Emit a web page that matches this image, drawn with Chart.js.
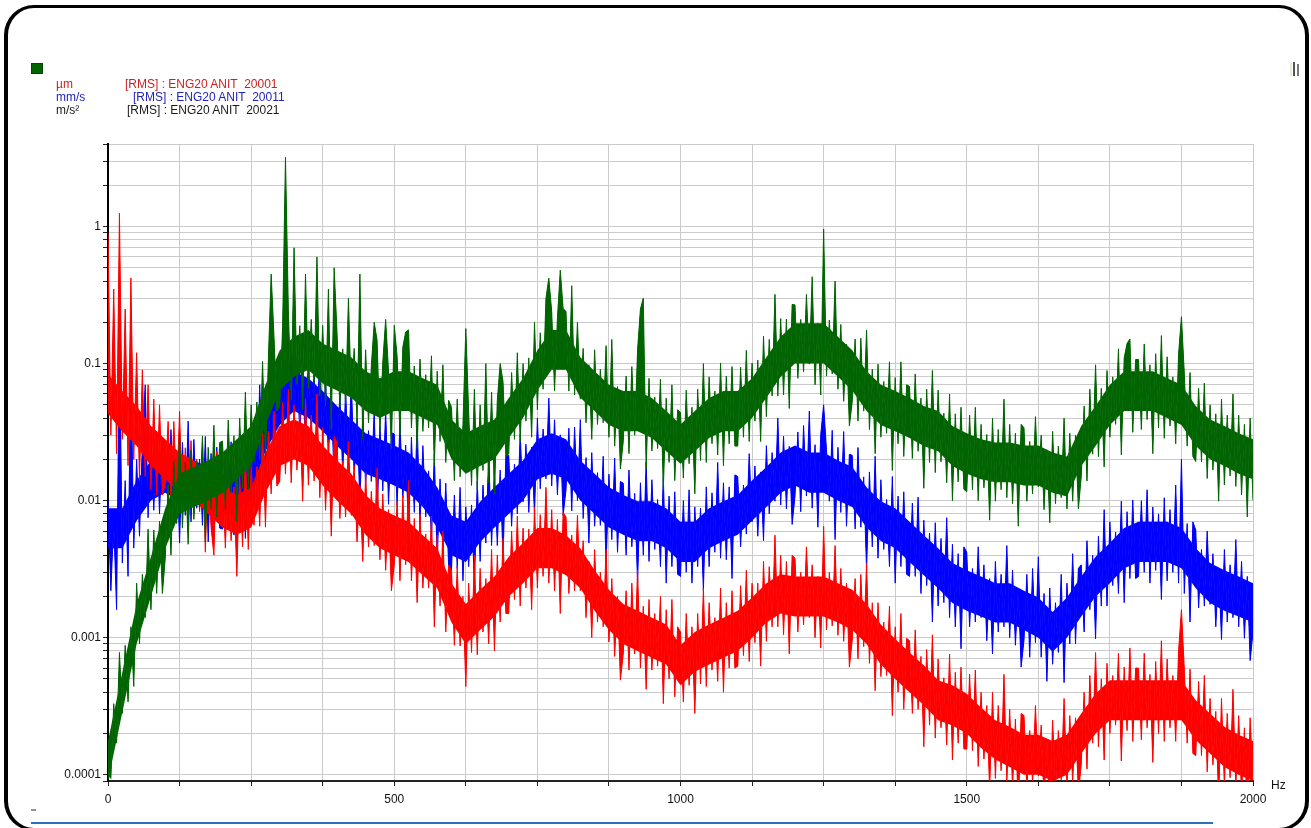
<!DOCTYPE html>
<html>
<head>
<meta charset="utf-8">
<script src="https://cdn.jsdelivr.net/npm/chart.js@4.4.1/dist/chart.umd.min.js"></script>
<style>
  html, body { margin: 0; padding: 0; background: #fff; }
  body { width: 1311px; height: 828px; position: relative; overflow: hidden; font-family: "Liberation Sans", Arial, sans-serif; }
  #frame { position: absolute; left: 4px; top: 5px; width: 1305px; height: 826px; box-sizing: border-box;
           border: 3px solid #000; border-left-width: 4px; border-right-width: 4px; border-radius: 30px; }
  #chart { position: absolute; left: 0; top: 0; }
  .legend-box { position: absolute; left: 31px; top: 63px; width: 12px; height: 11px; background: #006400; box-sizing: border-box; border: 1px solid #004a00; }
  .leg { position: absolute; font-size: 12px; line-height: 13px; white-space: pre; }
  .hz { position: absolute; left: 1271px; top: 778px; font-size: 12px; color: #111; }
  .bottom-line { position: absolute; left: 31px; top: 822px; width: 1182px; height: 2px; background: #2f6fbf; }
  .mark { position: absolute; }
</style>
</head>
<body>
<div id="frame"></div>
<canvas id="chart" width="1311" height="828"></canvas>

<div class="legend-box"></div>
<div class="leg" style="left:56px; top:78px; color:#cc1f1f;">µm</div>
<div class="leg" style="left:125px; top:78px; color:#cc1f1f;">[RMS] : ENG20 ANIT  20001</div>
<div class="leg" style="left:56px; top:91px; color:#2323b8;">mm/s</div>
<div class="leg" style="left:133px; top:91px; color:#2323b8;">[RMS] : ENG20 ANIT  20011</div>
<div class="leg" style="left:56px; top:104px; color:#1a1a1a;">m/s²</div>
<div class="leg" style="left:127px; top:104px; color:#1a1a1a;">[RMS] : ENG20 ANIT  20021</div>
<div class="hz">Hz</div>

<div class="mark" style="left:1290px; top:62px; width:2px; height:14px; background:#eeead6;"></div>
<div class="mark" style="left:1293px; top:62px; width:2px; height:14px; background:#555;"></div>
<div class="mark" style="left:1297px; top:64px; width:2px; height:12px; background:#777;"></div>
<div class="mark" style="left:31px; top:809px; width:5px; height:2px; background:#9a9685;"></div>
<div class="bottom-line"></div>

<script>
// --- Data: RMS spectrum, one value every 5 Hz from 0 to 2000 Hz ---
const freqStepHz = 5;
// dense core of each trace (where the lines are packed solid), every 25 Hz
const coreStepHz = 25;
const xTickLabels = [0, 500, 1000, 1500, 2000];
const yDecades = [0.0001, 0.001, 0.01, 0.1, 1];
const yTickLabels = ['0.0001', '0.001', '0.01', '0.1', '1'];

// µm  [RMS] : ENG20 ANIT 20001
const redValues = [
  0.9, 0.03, 0.35, 0.022, 1.25, 0.028, 0.25, 0.018, 0.42, 0.02, 0.12, 0.014, 0.09, 0.015, 0.07, 0.012, 0.055, 0.011, 0.05, 0.011,
  0.0132, 0.0378, 0.0096, 0.0378, 0.0112, 0.0448, 0.0086, 0.0243, 0.0059, 0.0274, 0.0081, 0.0201, 0.0083, 0.0271, 0.0042, 0.0196, 0.0064, 0.004, 0.023, 0.0156,
  0.0151, 0.0045, 0.0187, 0.0051, 0.0126, 0.0028, 0.0154, 0.0046, 0.023, 0.0044, 0.0178, 0.0066, 0.0177, 0.0065, 0.0334, 0.0064, 0.032, 0.0112, 0.045, 0.0128,
  0.0138, 0.052, 0.0156, 0.065, 0.0135, 0.05, 0.0167, 0.043, 0.0099, 0.055, 0.013, 0.042, 0.0139, 0.06, 0.0105, 0.034, 0.0085, 0.0275, 0.0055, 0.0294,
  0.0266, 0.0074, 0.0194, 0.0076, 0.0271, 0.0078, 0.0179, 0.005, 0.0129, 0.0036, 0.0158, 0.0046, 0.0117, 0.0047, 0.0172, 0.0037, 0.0112, 0.0031, 0.0086, 0.0022,
  0.0034, 0.0099, 0.0026, 0.0109, 0.0034, 0.014, 0.0026, 0.0074, 0.0018, 0.008, 0.0023, 0.0057, 0.0023, 0.0077, 0.0012, 0.0056, 0.0017, 0.006, 0.0011, 0.0034,
  0.0031, 0.00088, 0.0033, 0.00087, 0.002, 0.00044, 0.0025, 0.00078, 0.004, 0.00075, 0.0032, 0.0011, 0.0027, 0.0009, 0.0044, 0.0008, 0.004, 0.0013, 0.0053, 0.0015,
  0.0015, 0.006, 0.0019, 0.0077, 0.0017, 0.0063, 0.0023, 0.0062, 0.0016, 0.009, 0.0023, 0.0079, 0.0028, 0.0125, 0.0025, 0.0086, 0.0022, 0.0073, 0.0015, 0.0082,
  0.0076, 0.0021, 0.0056, 0.0022, 0.0078, 0.0022, 0.0051, 0.0014, 0.0036, 0.001, 0.0044, 0.0013, 0.003, 0.0012, 0.0044, 0.00093, 0.0027, 0.00073, 0.002, 0.00049,
  0.00076, 0.0022, 0.00058, 0.0025, 0.00076, 0.0031, 0.0006, 0.0017, 0.00042, 0.0019, 0.00058, 0.0015, 0.00062, 0.002, 0.00033, 0.0016, 0.0005, 0.0019, 0.00037, 0.0012,
  0.0011, 0.00034, 0.0015, 0.00045, 0.0012, 0.00028, 0.0015, 0.00046, 0.0023, 0.00044, 0.0018, 0.00058, 0.0014, 0.00048, 0.0023, 0.0004, 0.0018, 0.0006, 0.0022, 0.0006,
  0.00062, 0.0024, 0.00074, 0.0031, 0.00067, 0.0025, 0.00092, 0.0025, 0.00062, 0.0036, 0.00094, 0.0033, 0.0012, 0.0056, 0.0012, 0.004, 0.00105, 0.0036, 0.00076, 0.004,
  0.0038, 0.0011, 0.003, 0.00124, 0.0046, 0.0014, 0.0034, 0.001, 0.0028, 0.00084, 0.0065, 0.00114, 0.003, 0.00122, 0.0047, 0.00104, 0.0032, 0.00094, 0.0025, 0.00061,
  0.00096, 0.0027, 0.0007, 0.0029, 0.00086, 0.0035, 0.00065, 0.0018, 0.00041, 0.0018, 0.00052, 0.0013, 0.00053, 0.0017, 0.00027, 0.0012, 0.0004, 0.0015, 0.0003, 0.00099,
  0.00095, 0.00028, 0.00114, 0.0003, 0.00073, 0.00016, 0.00082, 0.00023, 0.00105, 0.000185, 0.0007, 0.00022, 0.00051, 0.000165, 0.00076, 0.000128, 0.00056, 0.00017, 0.00061, 0.000154,
  0.000154, 0.00054, 0.00015, 0.00058, 0.000115, 0.0004, 0.00013, 0.00032, 0.000076, 0.0004, 0.000094, 0.00032, 0.000107, 0.00054, 0.000088, 0.0003, 0.00008, 0.000255, 0.000054, 0.00028,
  0.00027, 0.000077, 0.00021, 0.000087, 0.00032, 0.000098, 0.00023, 0.000066, 0.00018, 0.000054, 0.00025, 0.000078, 0.00021, 0.000092, 0.00036, 0.000081, 0.00027, 0.000088, 0.00026, 0.000072,
  0.00012, 0.0004, 0.00011, 0.00053, 0.00017, 0.00078, 0.00016, 0.0005, 0.000128, 0.00065, 0.0002, 0.00053, 0.00023, 0.00077, 0.000126, 0.00061, 0.00021, 0.00084, 0.000175, 0.0006,
  0.0006, 0.00018, 0.00077, 0.00022, 0.00054, 0.000123, 0.00067, 0.0002, 0.00095, 0.000175, 0.0007, 0.00022, 0.00053, 0.000175, 0.0008, 0.0016, 0.00059, 0.00017, 0.00059, 0.000143,
  0.000138, 0.00048, 0.000138, 0.00053, 0.000105, 0.00036, 0.000118, 0.00029, 0.000065, 0.00036, 0.000083, 0.00028, 0.000095, 0.00042, 0.000083, 0.00027, 0.00007, 0.00022, 0.000047, 0.00026,
  0.00009
];
const redCoreHigh = [
  0.084, 0.063, 0.049, 0.035, 0.028, 0.0224, 0.0196, 0.0157, 0.0125, 0.011, 0.0125, 0.0224, 0.035, 0.039, 0.035, 0.0252, 0.0196, 0.0157, 0.011, 0.0088,
  0.0078, 0.007, 0.0056, 0.0045, 0.0025, 0.00176, 0.00224, 0.0028, 0.0039, 0.0049, 0.0063, 0.0063, 0.0056, 0.0045, 0.0031, 0.00224, 0.00176, 0.00157, 0.0014, 0.00125,
  0.00088, 0.0011, 0.00125, 0.0014, 0.00157, 0.00196, 0.0025, 0.0029, 0.0028, 0.0028, 0.0028, 0.0025, 0.00224, 0.00176, 0.00125, 0.00098, 0.00078, 0.00063, 0.00049, 0.00045,
  0.00039, 0.00031, 0.00025, 0.000224, 0.000196, 0.000196, 0.000176, 0.000196, 0.00028, 0.00039, 0.00049, 0.00049, 0.00049, 0.00049, 0.00049, 0.00049, 0.00035, 0.00028, 0.000224, 0.000196,
  0.000176
];
const redCoreLow = [
  0.043, 0.032, 0.025, 0.0179, 0.0143, 0.0114, 0.01, 0.008, 0.00636, 0.00564, 0.00636, 0.0114, 0.0179, 0.02, 0.0179, 0.0129, 0.01, 0.008, 0.00564, 0.0045,
  0.004, 0.00357, 0.00286, 0.00229, 0.00129, 0.0009, 0.00114, 0.00143, 0.002, 0.0025, 0.00321, 0.00321, 0.00286, 0.00229, 0.00157, 0.00114, 0.0009, 0.0008, 0.000714, 0.000636,
  0.00045, 0.000564, 0.000636, 0.000714, 0.0008, 0.001, 0.00129, 0.0015, 0.00143, 0.00143, 0.00143, 0.00129, 0.00114, 0.0009, 0.000636, 0.0005, 0.0004, 0.000321, 0.00025, 0.000229,
  0.0002, 0.000157, 0.000129, 0.000114, 0.0001, 0.0001, 0.00009, 0.0001, 0.000143, 0.0002, 0.00025, 0.00025, 0.00025, 0.00025, 0.00025, 0.00025, 0.000179, 0.000143, 0.000114, 0.0001,
  0.00009
];

// mm/s  [RMS] : ENG20 ANIT 20011
const blueValues = [
  0.01, 0.0022, 0.007, 0.0016, 0.17, 0.0035, 0.014, 0.0028, 0.11, 0.0045, 0.02, 0.0055, 0.026, 0.07, 0.0075, 0.027, 0.0085, 0.032, 0.008, 0.028,
  0.027, 0.0081, 0.033, 0.0092, 0.0223, 0.0049, 0.0266, 0.0078, 0.038, 0.007, 0.028, 0.0088, 0.0201, 0.0066, 0.0294, 0.005, 0.0221, 0.0068, 0.0246, 0.0063,
  0.0062, 0.0224, 0.0067, 0.0269, 0.0056, 0.0202, 0.0074, 0.0208, 0.0053, 0.0315, 0.0083, 0.0333, 0.0139, 0.07, 0.016, 0.061, 0.018, 0.068, 0.0158, 0.094,
  0.095, 0.029, 0.083, 0.036, 0.138, 0.044, 0.105, 0.03, 0.083, 0.024, 0.112, 0.032, 0.083, 0.033, 0.122, 0.026, 0.077, 0.021, 0.057, 0.014,
  0.021, 0.061, 0.0154, 0.065, 0.0191, 0.078, 0.0149, 0.04, 0.0096, 0.0437, 0.0128, 0.0324, 0.0138, 0.0458, 0.0073, 0.035, 0.0118, 0.046, 0.0094, 0.0313,
  0.0306, 0.0092, 0.0378, 0.0104, 0.0254, 0.0056, 0.029, 0.0082, 0.0378, 0.0067, 0.0252, 0.0076, 0.0165, 0.0052, 0.0221, 0.0036, 0.0144, 0.0041, 0.0134, 0.0033,
  0.0031, 0.011, 0.0032, 0.0125, 0.0026, 0.009, 0.0033, 0.0093, 0.0024, 0.0139, 0.0036, 0.013, 0.0049, 0.022, 0.0047, 0.0169, 0.0047, 0.0167, 0.0037, 0.0214,
  0.0213, 0.0065, 0.0185, 0.008, 0.0308, 0.0098, 0.0258, 0.0082, 0.0246, 0.0079, 0.04, 0.0122, 0.0333, 0.0144, 0.056, 0.0128, 0.0389, 0.011, 0.0302, 0.0078,
  0.012, 0.0338, 0.0084, 0.0344, 0.01, 0.039, 0.0074, 0.0206, 0.0049, 0.0224, 0.0065, 0.016, 0.0066, 0.0211, 0.0033, 0.0156, 0.0052, 0.0204, 0.0042, 0.0138,
  0.0134, 0.004, 0.0167, 0.0046, 0.0113, 0.0025, 0.0135, 0.004, 0.0192, 0.0036, 0.0142, 0.0044, 0.0102, 0.0033, 0.015, 0.0025, 0.0108, 0.0033, 0.0116, 0.0029,
  0.0028, 0.01, 0.003, 0.012, 0.0025, 0.009, 0.0033, 0.0088, 0.0022, 0.0126, 0.0033, 0.0114, 0.0042, 0.019, 0.0038, 0.0135, 0.0037, 0.0126, 0.0027, 0.0154,
  0.015, 0.0046, 0.013, 0.0057, 0.022, 0.007, 0.0179, 0.0055, 0.0162, 0.0051, 0.0252, 0.008, 0.0224, 0.0099, 0.04, 0.0093, 0.0295, 0.0087, 0.0249, 0.0067,
  0.0108, 0.0317, 0.0083, 0.0353, 0.0108, 0.045, 0.0088, 0.0256, 0.0064, 0.0304, 0.05, 0.0234, 0.0099, 0.0326, 0.0052, 0.0245, 0.0082, 0.0319, 0.0065, 0.0218,
  0.0214, 0.0062, 0.0244, 0.0064, 0.0149, 0.0031, 0.0162, 0.0046, 0.0211, 0.0038, 0.0142, 0.0044, 0.0102, 0.0033, 0.015, 0.0025, 0.0108, 0.0033, 0.0116, 0.0029,
  0.0028, 0.0096, 0.0028, 0.0106, 0.0021, 0.0072, 0.0024, 0.0058, 0.0013, 0.0069, 0.0017, 0.0053, 0.0018, 0.0075, 0.0014, 0.0048, 0.0012, 0.0041, 0.00083, 0.0046,
  0.0042, 0.0012, 0.0032, 0.0013, 0.0046, 0.0014, 0.0034, 0.00095, 0.0027, 0.00076, 0.0036, 0.0011, 0.0029, 0.0012, 0.0047, 0.001, 0.0031, 0.00088, 0.0023, 0.00061,
  0.00096, 0.0029, 0.00072, 0.0032, 0.00092, 0.0039, 0.00072, 0.0021, 0.00048, 0.0023, 0.00064, 0.0018, 0.00078, 0.0029, 0.00047, 0.0025, 0.0009, 0.0041, 0.0009, 0.0032,
  0.0034, 0.0011, 0.0051, 0.0016, 0.004, 0.00098, 0.0055, 0.0017, 0.0086, 0.0017, 0.007, 0.0024, 0.0059, 0.0021, 0.0099, 0.0018, 0.0083, 0.0027, 0.0101, 0.0027,
  0.0028, 0.01, 0.003, 0.012, 0.0025, 0.009, 0.0031, 0.008, 0.0019, 0.0105, 0.0026, 0.0086, 0.003, 0.013, 0.0025, 0.02, 0.0021, 0.0068, 0.0013, 0.007,
  0.0061, 0.00165, 0.0044, 0.0017, 0.006, 0.00175, 0.0041, 0.0012, 0.0032, 0.00097, 0.0044, 0.0013, 0.0034, 0.0014, 0.0052, 0.0012, 0.0036, 0.00099, 0.0028, 0.00068,
  0.0011
];
const blueCoreHigh = [
  0.0088, 0.0088, 0.014, 0.0196, 0.0224, 0.0196, 0.0196, 0.0176, 0.0157, 0.0157, 0.0224, 0.0448, 0.07, 0.088, 0.078, 0.063, 0.049, 0.039, 0.031, 0.028,
  0.0252, 0.0224, 0.0176, 0.0125, 0.0078, 0.007, 0.0098, 0.0125, 0.0157, 0.0196, 0.028, 0.031, 0.028, 0.0196, 0.0157, 0.0125, 0.011, 0.0099, 0.0099, 0.0088,
  0.007, 0.007, 0.0088, 0.0099, 0.011, 0.014, 0.0176, 0.0224, 0.0252, 0.0224, 0.0224, 0.0196, 0.0176, 0.0125, 0.0099, 0.0088, 0.007, 0.0056, 0.0045, 0.0035,
  0.0031, 0.0028, 0.0025, 0.0025, 0.0022, 0.00196, 0.00154, 0.00196, 0.0028, 0.0039, 0.0049, 0.0063, 0.007, 0.007, 0.007, 0.0063, 0.0045, 0.0035, 0.0031, 0.0028,
  0.0025
];
const blueCoreLow = [
  0.0045, 0.0045, 0.00714, 0.01, 0.0114, 0.01, 0.01, 0.009, 0.008, 0.008, 0.0114, 0.0229, 0.0357, 0.045, 0.04, 0.0321, 0.025, 0.02, 0.0157, 0.0143,
  0.0129, 0.0114, 0.009, 0.00636, 0.004, 0.00357, 0.005, 0.00636, 0.008, 0.01, 0.0143, 0.0157, 0.0143, 0.01, 0.008, 0.00636, 0.00564, 0.00507, 0.00507, 0.0045,
  0.00357, 0.00357, 0.0045, 0.00507, 0.00564, 0.00714, 0.009, 0.0114, 0.0129, 0.0114, 0.0114, 0.01, 0.009, 0.00636, 0.00507, 0.0045, 0.00357, 0.00286, 0.00229, 0.00179,
  0.00157, 0.00143, 0.00129, 0.00129, 0.00114, 0.001, 0.00079, 0.001, 0.00143, 0.002, 0.0025, 0.00321, 0.00357, 0.00357, 0.00357, 0.00321, 0.00229, 0.00179, 0.00157, 0.00143,
  0.00129
];

// m/s²  [RMS] : ENG20 ANIT 20021
const greenValues = [
  0.0001, 0.000094, 0.00033, 0.00017, 0.00078, 0.00028, 0.00088, 0.00034, 0.0012, 0.00044, 0.0025, 0.0009, 0.0029, 0.0014, 0.0062, 0.0016, 0.0061, 0.0021, 0.0071, 0.0021,
  0.0038, 0.0131, 0.004, 0.0195, 0.0068, 0.031, 0.0063, 0.0189, 0.0048, 0.0234, 0.0073, 0.0195, 0.0086, 0.0297, 0.005, 0.0245, 0.0086, 0.0355, 0.0076, 0.0265,
  0.0272, 0.0087, 0.0387, 0.0114, 0.0298, 0.007, 0.04, 0.0123, 0.062, 0.012, 0.05, 0.0192, 0.0525, 0.02, 0.1035, 0.02, 0.104, 0.45, 0.155, 0.045,
  0.049, 0.188, 3.2, 0.247, 0.054, 0.7, 0.071, 0.189, 0.046, 0.45, 0.066, 0.21, 0.072, 0.6, 0.058, 0.19, 0.049, 0.35, 0.033, 0.5,
  0.169, 0.048, 0.128, 0.051, 0.3, 0.055, 0.129, 0.037, 0.45, 0.028, 0.126, 0.037, 0.096, 0.2, 0.148, 0.032, 0.103, 0.21, 0.087, 0.024,
  0.19, 0.113, 0.03, 0.132, 0.17, 0.176, 0.034, 0.096, 0.024, 0.108, 0.032, 0.083, 0.034, 0.114, 0.018, 0.088, 0.027, 0.098, 0.019, 0.054,
  0.048, 0.014, 0.055, 0.0149, 0.036, 0.18, 0.044, 0.0129, 0.065, 0.012, 0.05, 0.0166, 0.1, 0.0135, 0.062, 0.0112, 0.054, 0.1, 0.074, 0.021,
  0.022, 0.086, 0.028, 0.12, 0.027, 0.1, 0.038, 0.11, 0.029, 0.2, 0.046, 0.168, 0.065, 0.3, 0.42, 0.24, 0.063, 0.214, 0.48, 0.252,
  0.24, 0.063, 0.37, 0.059, 0.2, 0.055, 0.129, 0.037, 0.098, 0.028, 0.126, 0.036, 0.091, 0.037, 0.135, 0.029, 0.15, 0.025, 0.068, 0.017,
  0.027, 0.081, 0.022, 0.095, 0.03, 0.126, 0.25, 0.3, 0.017, 0.078, 0.023, 0.057, 0.024, 0.077, 0.012, 0.056, 0.019, 0.07, 0.014, 0.046,
  0.044, 0.0146, 0.064, 0.0186, 0.048, 0.0112, 0.065, 0.0196, 0.1, 0.019, 0.08, 0.026, 0.063, 0.0215, 0.101, 0.018, 0.081, 0.026, 0.095, 0.025,
  0.025, 0.094, 0.029, 0.125, 0.027, 0.101, 0.038, 0.106, 0.027, 0.158, 0.041, 0.15, 0.058, 0.32, 0.058, 0.213, 0.059, 0.211, 0.047, 0.27,
  0.268, 0.078, 0.21, 0.087, 0.32, 0.099, 0.43, 0.07, 0.197, 0.059, 0.96, 0.081, 0.208, 0.084, 0.4, 0.065, 0.193, 0.053, 0.138, 0.035,
  0.053, 0.151, 0.038, 0.153, 0.045, 0.176, 0.033, 0.091, 0.022, 0.099, 0.029, 0.074, 0.031, 0.103, 0.0166, 0.079, 0.026, 0.103, 0.021, 0.07,
  0.068, 0.0203, 0.084, 0.0229, 0.056, 0.0123, 0.065, 0.019, 0.089, 0.016, 0.064, 0.0192, 0.0435, 0.0135, 0.06, 0.01, 0.043, 0.0137, 0.048, 0.0121,
  0.0116, 0.042, 0.012, 0.048, 0.01, 0.036, 0.0124, 0.0304, 0.0072, 0.04, 0.0099, 0.033, 0.012, 0.055, 0.0105, 0.036, 0.0095, 0.031, 0.0065, 0.036,
  0.034, 0.0099, 0.027, 0.0112, 0.041, 0.0126, 0.03, 0.0086, 0.0235, 0.0069, 0.032, 0.0095, 0.025, 0.0105, 0.04, 0.0087, 0.031, 0.0099, 0.03, 0.0087,
  0.015, 0.049, 0.0139, 0.065, 0.0218, 0.098, 0.0209, 0.066, 0.0176, 0.089, 0.029, 0.08, 0.036, 0.128, 0.0216, 0.11, 0.14, 0.151, 0.0315, 0.107,
  0.107, 0.033, 0.139, 0.039, 0.098, 0.022, 0.118, 0.034, 0.16, 0.0285, 0.112, 0.035, 0.08, 0.026, 0.117, 0.22, 0.085, 0.025, 0.086, 0.021,
  0.0193, 0.066, 0.0192, 0.072, 0.0145, 0.05, 0.0167, 0.043, 0.0099, 0.055, 0.013, 0.042, 0.0151, 0.06, 0.0127, 0.042, 0.011, 0.036, 0.0076, 0.04,
  0.01
];
const greenCoreHigh = [
  0.000176, 0.00056, 0.00176, 0.0039, 0.0088, 0.0157, 0.0176, 0.0196, 0.0224, 0.028, 0.035, 0.07, 0.125, 0.157, 0.176, 0.14, 0.125, 0.111, 0.088, 0.078,
  0.088, 0.088, 0.078, 0.07, 0.039, 0.031, 0.035, 0.039, 0.056, 0.078, 0.125, 0.176, 0.176, 0.111, 0.088, 0.07, 0.063, 0.063, 0.056, 0.045,
  0.036, 0.045, 0.056, 0.063, 0.063, 0.078, 0.111, 0.157, 0.197, 0.197, 0.197, 0.157, 0.125, 0.088, 0.07, 0.063, 0.056, 0.049, 0.045, 0.035,
  0.031, 0.028, 0.0266, 0.0266, 0.0252, 0.0252, 0.0224, 0.021, 0.035, 0.049, 0.07, 0.088, 0.088, 0.088, 0.078, 0.07, 0.049, 0.039, 0.035, 0.031,
  0.028
];
const greenCoreLow = [
  0.00009, 0.000286, 0.0009, 0.002, 0.0045, 0.008, 0.009, 0.01, 0.0114, 0.0143, 0.0179, 0.0357, 0.0636, 0.08, 0.09, 0.0714, 0.0636, 0.0564, 0.045, 0.04,
  0.045, 0.045, 0.04, 0.0357, 0.02, 0.0157, 0.0179, 0.02, 0.0286, 0.04, 0.0636, 0.09, 0.09, 0.0564, 0.045, 0.0357, 0.0321, 0.0321, 0.0286, 0.0229,
  0.0186, 0.0229, 0.0286, 0.0321, 0.0321, 0.04, 0.0564, 0.08, 0.1, 0.1, 0.1, 0.08, 0.0636, 0.045, 0.0357, 0.0321, 0.0286, 0.025, 0.0229, 0.0179,
  0.0157, 0.0143, 0.0136, 0.0136, 0.0129, 0.0129, 0.0114, 0.0107, 0.0179, 0.025, 0.0357, 0.045, 0.045, 0.045, 0.04, 0.0357, 0.025, 0.02, 0.0179, 0.0157,
  0.0143
];

const Y_MIN = 0.00009;
const Y_MAX = 4;
const X_MIN = 0;
const X_MAX = 2000;

function toPoints(values, step) {
  return values.map((v, i) => ({ x: i * step, y: v }));
}

const traces = [
  { label: 'µm', values: redValues, high: redCoreHigh, low: redCoreLow, color: '#ff0000', order: 2 },
  { label: 'mm/s', values: blueValues, high: blueCoreHigh, low: blueCoreLow, color: '#0000ff', order: 4 },
  { label: 'm/s²', values: greenValues, high: greenCoreHigh, low: greenCoreLow, color: '#006400', order: 0 }
];

// Each trace: the noisy line is filled both towards the top and the bottom of its
// dense core, so the packed part is solid and the spiky edges stay jagged.
const datasets = [];
traces.forEach(t => {
  const hi = datasets.length;
  const hidden = { borderWidth: 0, borderColor: 'rgba(0,0,0,0)', pointRadius: 0, fill: false, order: t.order + 1 };
  datasets.push(Object.assign({ label: t.label + ' core high', data: toPoints(t.high, coreStepHz) }, hidden));
  datasets.push(Object.assign({ label: t.label + ' core low', data: toPoints(t.low, coreStepHz) }, hidden));
  datasets.push({
    label: t.label, data: toPoints(t.values, freqStepHz),
    borderColor: t.color, backgroundColor: t.color, borderWidth: 1, pointRadius: 0, tension: 0,
    borderJoinStyle: 'miter', fill: { target: hi }, order: t.order
  });
  datasets.push({
    label: t.label + ' lower edge', data: toPoints(t.values, freqStepHz),
    borderColor: 'rgba(0,0,0,0)', backgroundColor: t.color, borderWidth: 0, pointRadius: 0, tension: 0,
    fill: { target: hi + 1 }, order: t.order + 0.5
  });
});

const tickFont = { family: '"Liberation Sans", Arial, sans-serif', size: 12 };

new Chart(document.getElementById('chart').getContext('2d'), {
  type: 'line',
  data: { datasets: datasets },
  options: {
    responsive: false,
    animation: false,
    events: [],
    layout: { padding: { top: 144, right: 58, left: 0, bottom: 0 } },
    plugins: { legend: { display: false }, tooltip: { enabled: false } },
    scales: {
      x: {
        type: 'linear',
        min: X_MIN,
        max: X_MAX,
        afterFit: scale => { scale.height = 47; },
        grid: { color: '#cbcbcb', lineWidth: 1, tickColor: '#222', tickLength: 5 },
        border: { display: true, color: '#222', width: 2 },
        ticks: {
          stepSize: 125,
          autoSkip: false,
          maxRotation: 0,
          padding: 6,
          color: '#111',
          font: tickFont,
          callback: v => (xTickLabels.includes(v) ? String(v) : '')
        }
      },
      y: {
        type: 'logarithmic',
        min: Y_MIN,
        max: Y_MAX,
        afterFit: scale => { scale.width = 108; },
        afterBuildTicks: scale => {
          // decade + minor (2..9) grid lines
          const ticks = [];
          for (let e = -5; e <= 0; e++) {
            for (let m = 1; m <= 9; m++) {
              const v = m * Math.pow(10, e);
              if (v >= Y_MIN && v <= Y_MAX * 1.0001) ticks.push({ value: v });
            }
          }
          scale.ticks = ticks;
        },
        grid: { color: '#cbcbcb', lineWidth: 1, tickColor: '#222', tickLength: 5 },
        border: { display: true, color: '#000', width: 2 },
        ticks: {
          autoSkip: false,
          padding: 2,
          color: '#111',
          font: tickFont,
          callback: v => {
            const i = yDecades.findIndex(d => Math.abs(v / d - 1) < 1e-6);
            return i >= 0 ? yTickLabels[i] : '';
          }
        }
      }
    }
  }
});
</script>
</body>
</html>
